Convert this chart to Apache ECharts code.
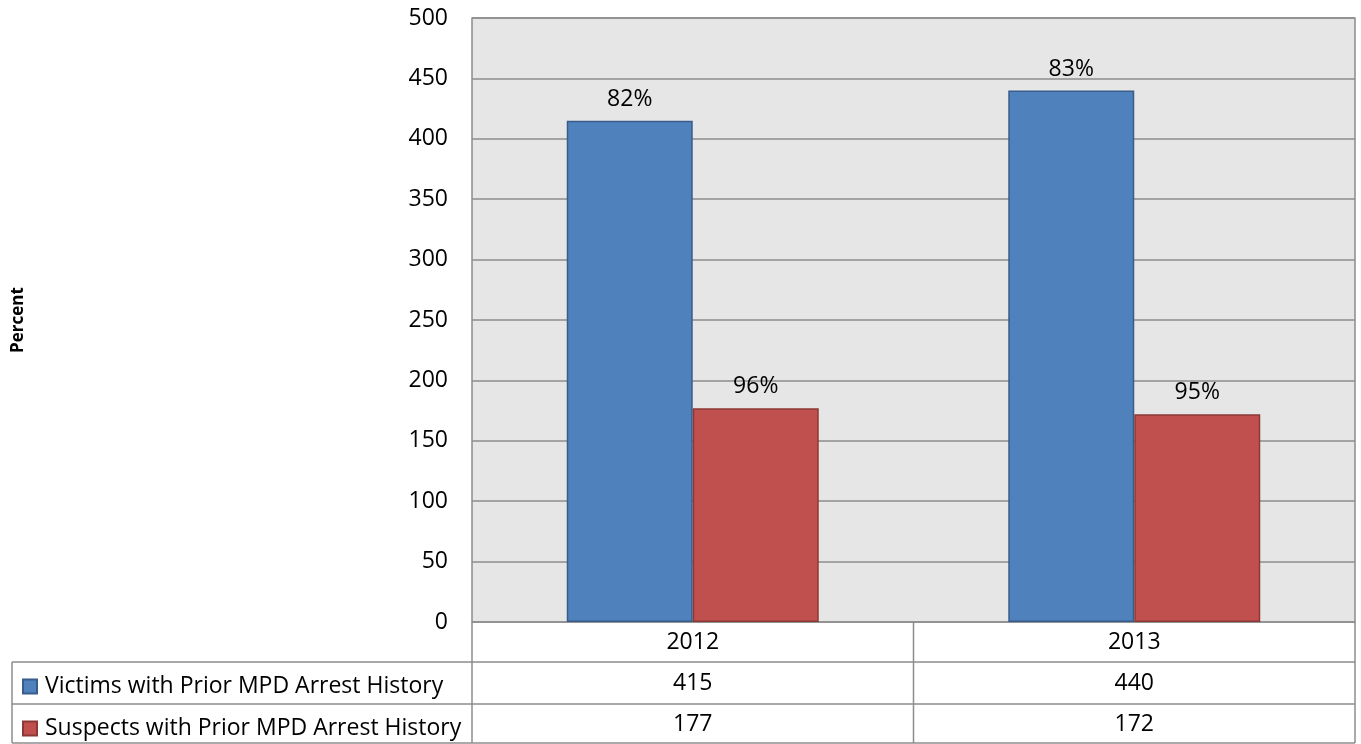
<!DOCTYPE html>
<html>
<head>
<meta charset="utf-8">
<script src="https://cdn.jsdelivr.net/npm/echarts@6/dist/echarts.min.js"></script>
<style>
html,body{margin:0;padding:0;background:#fff;}
#c{width:1361px;height:744px;}
</style>
</head>
<body>
<div id="c"></div>
<script>
const years = ['2012', '2013'];
const seriesNames = ['Victims with Prior MPD Arrest History', 'Suspects with Prior MPD Arrest History'];
const victims = [415, 440];
const suspects = [177, 172];
const victimPct = ['82%', '83%'];
const suspectPct = ['96%', '95%'];
const yTicks = { min: 0, max: 500, interval: 50 };

const W = 1361, H = 744;
const G = { left: 472, right: 6, top: 18, bottom: 122 };
const FONT = '"Open Sans", "Noto Sans", sans-serif';
const FS = 23;
const ROW = 41;
const lineCol = '#8c8c8c';

const chart = echarts.init(document.getElementById('c'), null, { renderer: 'canvas' });

const plotBottom = H - G.bottom;
const plotRight = W - G.right;
const catMid = G.left + (plotRight - G.left) / 2;
const row1 = plotBottom + 40;
const row2 = row1 + 42;
const tableBottom = H - 1;
const tableLeft = 12;

function line(x1, y1, x2, y2) {
  return { type: 'line', shape: { x1, y1, x2, y2 }, style: { stroke: lineCol, lineWidth: 1.5 }, silent: true, z: 10 };
}

const option = {
  animation: false,
  backgroundColor: '#fff',
  textStyle: { fontFamily: FONT },
  grid: { left: G.left, right: G.right, top: G.top, bottom: G.bottom, show: true, backgroundColor: '#e6e6e6', borderColor: lineCol, borderWidth: 1.5 },
  legend: [
    { data: [seriesNames[0]], orient: 'vertical', left: 22, top: row1 + 13, itemWidth: 14, itemHeight: 14, icon: 'rect',
      textStyle: { fontSize: FS, color: '#000', fontFamily: FONT, padding: [0, 0, 0, 3] }, padding: 0, selectedMode: false },
    { data: [seriesNames[1]], orient: 'vertical', left: 22, top: row2 + 13, itemWidth: 14, itemHeight: 14, icon: 'rect',
      textStyle: { fontSize: FS, color: '#000', fontFamily: FONT, padding: [0, 0, 0, 3] }, padding: 0, selectedMode: false }
  ],
  xAxis: {
    type: 'category',
    data: years,
    axisLine: { show: false },
    axisTick: { show: false },
    splitLine: { show: false },
    axisLabel: {
      margin: 0,
      interval: 0,
      formatter: function (v, i) {
        return '{a|' + v + '}\n{a|' + victims[i] + '}\n{a|' + suspects[i] + '}';
      },
      rich: { a: { fontSize: FS, lineHeight: ROW, color: '#000', fontFamily: FONT, align: 'center' } }
    }
  },
  yAxis: {
    type: 'value',
    min: yTicks.min, max: yTicks.max, interval: yTicks.interval,
    name: 'Percent',
    nameLocation: 'middle',
    nameGap: 445,
    nameRotate: 90,
    nameTextStyle: { fontSize: 17, fontWeight: 'bold', color: '#000', fontFamily: FONT },
    axisLine: { show: false },
    axisTick: { show: false },
    axisLabel: { fontSize: FS, color: '#000', margin: 24, fontFamily: FONT },
    splitLine: { lineStyle: { color: lineCol, width: 1.5 } }
  },
  series: [
    {
      name: seriesNames[0], type: 'bar', data: victims, barWidth: 126, barGap: '0%',
      itemStyle: { color: '#4f81bd', borderColor: '#385d8a', borderWidth: 1.5 },
      label: { show: true, position: 'top', distance: 10, fontSize: FS, color: '#000', fontFamily: FONT,
        formatter: p => victimPct[p.dataIndex] }
    },
    {
      name: seriesNames[1], type: 'bar', data: suspects, barWidth: 126, barGap: '0%',
      itemStyle: { color: '#c0504d', borderColor: '#8c3836', borderWidth: 1.5 },
      label: { show: true, position: 'top', distance: 10, fontSize: FS, color: '#000', fontFamily: FONT,
        formatter: p => suspectPct[p.dataIndex] }
    }
  ],
  graphic: [
    line(tableLeft, row1, plotRight, row1),
    line(tableLeft, row2, plotRight, row2),
    line(tableLeft, tableBottom, plotRight, tableBottom),
    line(tableLeft, row1, tableLeft, tableBottom),
    line(G.left, plotBottom, G.left, tableBottom),
    line(catMid, plotBottom, catMid, tableBottom),
    line(plotRight, plotBottom, plotRight, tableBottom)
  ]
};
chart.setOption(option);
</script>
</body>
</html>
